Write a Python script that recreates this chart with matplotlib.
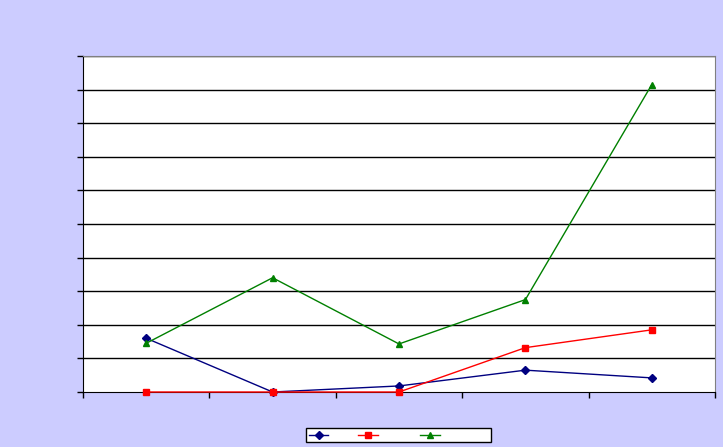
import matplotlib.pyplot as plt
from matplotlib.lines import Line2D

# 5 categories, no labels shown on the chart
categories = [1, 2, 3, 4, 5]
serie_bleue = [1.6, 0.0, 0.18, 0.65, 0.42]
serie_rouge = [0.0, 0.0, 0.0, 1.32, 1.85]
serie_verte = [1.45, 3.4, 1.43, 2.75, 9.15]
y_ticks = [0, 1, 2, 3, 4, 5, 6, 7, 8, 9, 10]

fond = "#CCCCFF"

fig = plt.figure(figsize=(7.23, 4.47), dpi=100, facecolor=fond)
ax = fig.add_axes([83 / 723, 55 / 447, 632 / 723, 336 / 447])
ax.set_facecolor("white")

ax.plot(categories, serie_bleue, color="#000080", marker="D", markersize=4, linewidth=1, clip_on=False, zorder=3)
ax.plot(categories, serie_rouge, color="#FF0000", marker="s", markersize=5, linewidth=1, clip_on=False, zorder=3)
ax.plot(categories, serie_verte, color="#008000", marker="^", markersize=5, linewidth=1, clip_on=False, zorder=3)

ax.set_xlim(0.5, 5.5)
ax.set_ylim(0, 10)
ax.set_xticks([0.5, 1.5, 2.5, 3.5, 4.5, 5.5])
ax.set_xticklabels([])
ax.set_yticks(y_ticks)
ax.set_yticklabels([])
ax.tick_params(direction="out", length=4, width=1, color="black")

# lignes horizontales noires
for y in y_ticks[1:]:
    ax.axhline(y, color="black", linewidth=1, zorder=0.5)

ax.spines["left"].set_color("black")
ax.spines["bottom"].set_color("black")
ax.spines["top"].set_color("#808080")
ax.spines["right"].set_color("#808080")

# légende sans texte
handles = [
    Line2D([], [], color="#000080", marker="D", markersize=4, linewidth=1),
    Line2D([], [], color="#FF0000", marker="s", markersize=5, linewidth=1),
    Line2D([], [], color="#008000", marker="^", markersize=5, linewidth=1),
]
leg = fig.legend(handles, [" " * 4, " " * 8, " " * 13], ncol=3, loc="center",
                 bbox_to_anchor=(398.5 / 723, 1 - 435 / 447), frameon=True,
                 fancybox=False, edgecolor="black", framealpha=1,
                 handlelength=2.0, handletextpad=0.8, columnspacing=1.0,
                 borderpad=0.25, borderaxespad=0, fontsize=7)
leg.get_frame().set_linewidth(1)

plt.savefig("out.png", dpi=100, facecolor=fond)
